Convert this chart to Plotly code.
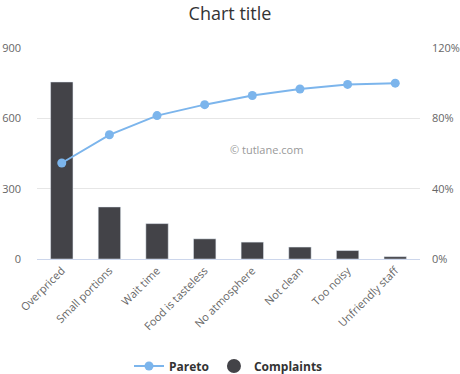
import plotly.graph_objects as go

categories = ['Overpriced', 'Small portions', 'Wait time', 'Food is tasteless',
              'No atmosphere', 'Not clean', 'Too noisy', 'Unfriendly staff']
complaints = [755, 222, 151, 86, 72, 51, 36, 10]
left_ticks = [0, 300, 600, 900]
right_ticks = [0, 40, 80, 120]
right_tick_labels = ['0%', '40%', '80%', '120%']

total = sum(complaints)
pareto = []
running = 0
for v in complaints:
    running += v
    pareto.append(running / total * 100)

font = "Open Sans, DejaVu Sans, sans-serif"
fig = go.Figure()
fig.add_trace(go.Bar(x=categories, y=complaints, name='Complaints', marker_color='#434348',
                     width=0.47, showlegend=False, legendgroup='c'))
fig.add_trace(go.Scatter(x=categories, y=pareto, name='Pareto', yaxis='y2', mode='lines+markers',
                         line=dict(color='#7cb5ec', width=2), marker=dict(size=9, color='#7cb5ec'),
                         legendrank=1))
fig.add_trace(go.Scatter(x=[None], y=[None], name='Complaints', mode='markers',
                         marker=dict(size=14, color='#434348', symbol='circle'),
                         legendgroup='c', legendrank=2))

fig.update_layout(
    width=460, height=374,
    margin=dict(l=37, r=40, t=48, b=115, autoexpand=False),
    paper_bgcolor='white', plot_bgcolor='white',
    font=dict(family=font, color='#666666', size=11),
    title=dict(text='Chart title', x=0.5, xanchor='center', y=0.963, yanchor='middle',
               font=dict(size=18, color='#333333', family=font)),
    xaxis=dict(tickangle=-45, showline=True, linecolor='#ccd6eb', linewidth=1,
               ticks='', showgrid=False, automargin=False,
               tickfont=dict(size=11, color='#666666')),
    yaxis=dict(range=[0, 900], tickvals=left_ticks, gridcolor='#e6e6e6',
               zeroline=False, ticklabelstandoff=15, automargin=False,
               tickfont=dict(size=11, color='#666666')),
    yaxis2=dict(range=[0, 120], tickvals=right_ticks, ticktext=right_tick_labels,
                overlaying='y', side='right', showgrid=False, zeroline=False,
                ticklabelstandoff=11, automargin=False,
                tickfont=dict(size=11, color='#666666')),
    legend=dict(orientation='h', x=0.5, xanchor='center', y=-0.507, yanchor='middle',
                font=dict(size=12, color='#333333', family=font, weight='bold'),
                itemsizing='trace', traceorder='normal'),
    annotations=[dict(text='© tutlane.com', xref='paper', yref='paper', x=0.598, y=0.521,
                      showarrow=False, font=dict(size=11, color='#999999', family=font))],
)
fig.write_html('out.html', config={'displayModeBar': False},
               post_script="document.body.style.margin='0';")
